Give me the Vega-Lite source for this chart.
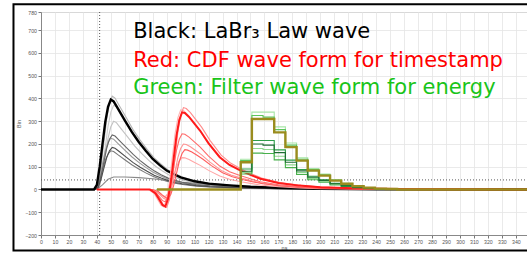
{
  "$schema": "https://vega.github.io/schema/vega-lite/v6.json",
  "width": 486,
  "height": 223,
  "autosize": {"type": "none"},
  "padding": {"left": 41, "top": 12, "right": 0, "bottom": 18},
  "background": "white",
  "config": {
    "view": {"stroke": "#a8a8a8", "strokeWidth": 1},
    "axis": {
      "labelFont": "Liberation Sans", "labelFontSize": 5.2, "labelColor": "#555555", "labelOverlap": false,
      "titleFont": "Liberation Sans", "titleFontSize": 5.5, "titleFontWeight": "normal", "titleColor": "#555555",
      "tickColor": "#777777", "tickSize": 3, "domainColor": "#888888", "labelPadding": 1.5,
      "gridColor": "#e4e4e4", "gridWidth": 0.8
    }
  },
  "resolve": {"scale": {"color": "independent"}},
  "encoding": {
    "x": {"field": "t", "type": "quantitative",
          "scale": {"domain": [0, 348], "nice": false, "zero": false},
          "axis": {"values": [0,10,20,30,40,50,60,70,80,90,100,110,120,130,140,150,160,170,180,190,200,210,220,230,240,250,260,270,280,290,300,310,320,330,340], "labelOverlap": false, "labelBound": false, "labelFlush": false, "labelSeparation": 0, "title": "ns", "grid": true, "titlePadding": 1}},
    "y": {"field": "v", "type": "quantitative",
          "scale": {"domain": [-200, 780], "nice": false, "zero": false},
          "axis": {"values": [-200,-100,0,100,200,300,400,500,600,700,780], "labelOverlap": false, "labelBound": false, "labelFlush": false, "labelSeparation": 0, "title": "Bin", "grid": true, "titlePadding": 3}}
  },
  "datasets": {
    "black": [
      {"s":"b2","t":0,"v":0},{"s":"b2","t":39,"v":0},{"s":"b2","t":41,"v":21},{"s":"b2","t":43,"v":103},{"s":"b2","t":45,"v":205},{"s":"b2","t":47,"v":308},{"s":"b2","t":49,"v":377},{"s":"b2","t":51,"v":410},{"s":"b2","t":53,"v":402},{"s":"b2","t":56,"v":369},{"s":"b2","t":61,"v":316},{"s":"b2","t":66,"v":262},{"s":"b2","t":71,"v":217},{"s":"b2","t":76,"v":176},{"s":"b2","t":81,"v":139},{"s":"b2","t":86,"v":111},{"s":"b2","t":91,"v":86},{"s":"b2","t":96,"v":70},{"s":"b2","t":101,"v":55},{"s":"b2","t":111,"v":37},{"s":"b2","t":121,"v":27},{"s":"b2","t":136,"v":18},{"s":"b2","t":151,"v":12},{"s":"b2","t":171,"v":7},{"s":"b2","t":201,"v":3},{"s":"b2","t":241,"v":1},{"s":"b2","t":348,"v":0},
      {"s":"b3","t":0,"v":0},{"s":"b3","t":40,"v":0},{"s":"b3","t":42,"v":19},{"s":"b3","t":44,"v":93},{"s":"b3","t":46,"v":185},{"s":"b3","t":48,"v":278},{"s":"b3","t":50,"v":340},{"s":"b3","t":52,"v":370},{"s":"b3","t":54,"v":363},{"s":"b3","t":57,"v":333},{"s":"b3","t":62,"v":285},{"s":"b3","t":67,"v":237},{"s":"b3","t":72,"v":196},{"s":"b3","t":77,"v":159},{"s":"b3","t":82,"v":126},{"s":"b3","t":87,"v":100},{"s":"b3","t":92,"v":78},{"s":"b3","t":97,"v":63},{"s":"b3","t":102,"v":50},{"s":"b3","t":112,"v":33},{"s":"b3","t":122,"v":24},{"s":"b3","t":137,"v":17},{"s":"b3","t":152,"v":11},{"s":"b3","t":172,"v":7},{"s":"b3","t":202,"v":3},{"s":"b3","t":242,"v":1},{"s":"b3","t":348,"v":0},
      {"s":"b4","t":0,"v":0},{"s":"b4","t":40,"v":0},{"s":"b4","t":42,"v":15},{"s":"b4","t":44,"v":75},{"s":"b4","t":46,"v":150},{"s":"b4","t":48,"v":225},{"s":"b4","t":50,"v":276},{"s":"b4","t":52,"v":300},{"s":"b4","t":54,"v":294},{"s":"b4","t":57,"v":270},{"s":"b4","t":62,"v":231},{"s":"b4","t":67,"v":192},{"s":"b4","t":72,"v":159},{"s":"b4","t":77,"v":129},{"s":"b4","t":82,"v":102},{"s":"b4","t":87,"v":81},{"s":"b4","t":92,"v":63},{"s":"b4","t":97,"v":51},{"s":"b4","t":102,"v":41},{"s":"b4","t":112,"v":27},{"s":"b4","t":122,"v":20},{"s":"b4","t":137,"v":14},{"s":"b4","t":152,"v":9},{"s":"b4","t":172,"v":5},{"s":"b4","t":202,"v":2},{"s":"b4","t":242,"v":1},{"s":"b4","t":348,"v":0},
      {"s":"b6","t":0,"v":0},{"s":"b6","t":38,"v":0},{"s":"b6","t":40,"v":11},{"s":"b6","t":42,"v":56},{"s":"b6","t":44,"v":113},{"s":"b6","t":46,"v":169},{"s":"b6","t":48,"v":207},{"s":"b6","t":50,"v":225},{"s":"b6","t":52,"v":221},{"s":"b6","t":55,"v":203},{"s":"b6","t":60,"v":173},{"s":"b6","t":65,"v":144},{"s":"b6","t":70,"v":119},{"s":"b6","t":75,"v":97},{"s":"b6","t":80,"v":77},{"s":"b6","t":85,"v":61},{"s":"b6","t":90,"v":47},{"s":"b6","t":95,"v":38},{"s":"b6","t":100,"v":30},{"s":"b6","t":110,"v":20},{"s":"b6","t":120,"v":15},{"s":"b6","t":135,"v":10},{"s":"b6","t":150,"v":7},{"s":"b6","t":170,"v":4},{"s":"b6","t":200,"v":2},{"s":"b6","t":240,"v":1},{"s":"b6","t":348,"v":0},
      {"s":"b8","t":0,"v":0},{"s":"b8","t":38,"v":0},{"s":"b8","t":40,"v":9},{"s":"b8","t":42,"v":43},{"s":"b8","t":44,"v":85},{"s":"b8","t":46,"v":128},{"s":"b8","t":48,"v":156},{"s":"b8","t":50,"v":170},{"s":"b8","t":52,"v":167},{"s":"b8","t":55,"v":153},{"s":"b8","t":60,"v":131},{"s":"b8","t":65,"v":109},{"s":"b8","t":70,"v":90},{"s":"b8","t":75,"v":73},{"s":"b8","t":80,"v":58},{"s":"b8","t":85,"v":46},{"s":"b8","t":90,"v":36},{"s":"b8","t":95,"v":29},{"s":"b8","t":100,"v":23},{"s":"b8","t":110,"v":15},{"s":"b8","t":120,"v":11},{"s":"b8","t":135,"v":8},{"s":"b8","t":150,"v":5},{"s":"b8","t":170,"v":3},{"s":"b8","t":200,"v":1},{"s":"b8","t":240,"v":1},{"s":"b8","t":348,"v":0},
      {"s":"b9","t":0,"v":0},{"s":"b9","t":40,"v":0},{"s":"b9","t":44,"v":20},{"s":"b9","t":48,"v":45},{"s":"b9","t":52,"v":55},{"s":"b9","t":60,"v":55},{"s":"b9","t":70,"v":52},{"s":"b9","t":80,"v":47},{"s":"b9","t":90,"v":40},{"s":"b9","t":100,"v":33},{"s":"b9","t":120,"v":22},{"s":"b9","t":150,"v":12},{"s":"b9","t":200,"v":4},{"s":"b9","t":348,"v":0},
      {"s":"b5","t":0,"v":0},{"s":"b5","t":39,"v":0},{"s":"b5","t":41,"v":12},{"s":"b5","t":43,"v":60},{"s":"b5","t":45,"v":120},{"s":"b5","t":47,"v":180},{"s":"b5","t":49,"v":221},{"s":"b5","t":51,"v":240},{"s":"b5","t":53,"v":235},{"s":"b5","t":56,"v":216},{"s":"b5","t":61,"v":185},{"s":"b5","t":66,"v":154},{"s":"b5","t":71,"v":127},{"s":"b5","t":76,"v":103},{"s":"b5","t":81,"v":82},{"s":"b5","t":86,"v":65},{"s":"b5","t":91,"v":50},{"s":"b5","t":96,"v":41},{"s":"b5","t":101,"v":32},{"s":"b5","t":111,"v":22},{"s":"b5","t":121,"v":16},{"s":"b5","t":136,"v":11},{"s":"b5","t":151,"v":7},{"s":"b5","t":171,"v":4},{"s":"b5","t":201,"v":2},{"s":"b5","t":241,"v":1},{"s":"b5","t":348,"v":0},
      {"s":"b7","t":0,"v":0},{"s":"b7","t":39,"v":0},{"s":"b7","t":41,"v":9},{"s":"b7","t":43,"v":46},{"s":"b7","t":45,"v":93},{"s":"b7","t":47,"v":139},{"s":"b7","t":49,"v":170},{"s":"b7","t":51,"v":185},{"s":"b7","t":53,"v":181},{"s":"b7","t":56,"v":167},{"s":"b7","t":61,"v":142},{"s":"b7","t":66,"v":118},{"s":"b7","t":71,"v":98},{"s":"b7","t":76,"v":80},{"s":"b7","t":81,"v":63},{"s":"b7","t":86,"v":50},{"s":"b7","t":91,"v":39},{"s":"b7","t":96,"v":31},{"s":"b7","t":101,"v":25},{"s":"b7","t":111,"v":17},{"s":"b7","t":121,"v":12},{"s":"b7","t":136,"v":8},{"s":"b7","t":151,"v":6},{"s":"b7","t":171,"v":3},{"s":"b7","t":201,"v":1},{"s":"b7","t":241,"v":1},{"s":"b7","t":348,"v":0}
    ],
    "blackMain": [
      {"s":"b1","t":0,"v":0},{"s":"b1","t":38,"v":0},{"s":"b1","t":40,"v":20},{"s":"b1","t":42,"v":99},{"s":"b1","t":44,"v":198},{"s":"b1","t":46,"v":296},{"s":"b1","t":48,"v":363},{"s":"b1","t":50,"v":395},{"s":"b1","t":52,"v":387},{"s":"b1","t":55,"v":356},{"s":"b1","t":60,"v":304},{"s":"b1","t":65,"v":253},{"s":"b1","t":70,"v":209},{"s":"b1","t":75,"v":170},{"s":"b1","t":80,"v":134},{"s":"b1","t":85,"v":107},{"s":"b1","t":90,"v":83},{"s":"b1","t":95,"v":67},{"s":"b1","t":100,"v":53},{"s":"b1","t":110,"v":36},{"s":"b1","t":120,"v":26},{"s":"b1","t":135,"v":18},{"s":"b1","t":150,"v":12},{"s":"b1","t":170,"v":7},{"s":"b1","t":200,"v":3},{"s":"b1","t":240,"v":1},{"s":"b1","t":348,"v":0}
    ],
    "red": [
      {"s":"r3","t":40,"v":0},{"s":"r3","t":77,"v":0},{"s":"r3","t":81,"v":-18},{"s":"r3","t":84,"v":-49},{"s":"r3","t":86,"v":-70},{"s":"r3","t":88,"v":-77},{"s":"r3","t":90,"v":-42},{"s":"r3","t":92,"v":35},{"s":"r3","t":94,"v":140},{"s":"r3","t":96,"v":245},{"s":"r3","t":98,"v":315},{"s":"r3","t":100,"v":350},{"s":"r3","t":102,"v":347},{"s":"r3","t":105,"v":329},{"s":"r3","t":109,"v":298},{"s":"r3","t":113,"v":266},{"s":"r3","t":119,"v":210},{"s":"r3","t":127,"v":147},{"s":"r3","t":134,"v":112},{"s":"r3","t":142,"v":86},{"s":"r3","t":149,"v":67},{"s":"r3","t":156,"v":49},{"s":"r3","t":169,"v":30},{"s":"r3","t":184,"v":18},{"s":"r3","t":199,"v":11},{"s":"r3","t":229,"v":4},{"s":"r3","t":269,"v":1},{"s":"r3","t":348,"v":0},
      {"s":"r2","t":40,"v":0},{"s":"r2","t":79,"v":0},{"s":"r2","t":83,"v":-18},{"s":"r2","t":86,"v":-50},{"s":"r2","t":88,"v":-72},{"s":"r2","t":90,"v":-79},{"s":"r2","t":92,"v":-43},{"s":"r2","t":94,"v":36},{"s":"r2","t":96,"v":144},{"s":"r2","t":98,"v":252},{"s":"r2","t":100,"v":324},{"s":"r2","t":102,"v":360},{"s":"r2","t":104,"v":356},{"s":"r2","t":107,"v":338},{"s":"r2","t":111,"v":306},{"s":"r2","t":115,"v":274},{"s":"r2","t":121,"v":216},{"s":"r2","t":129,"v":151},{"s":"r2","t":136,"v":115},{"s":"r2","t":144,"v":88},{"s":"r2","t":151,"v":68},{"s":"r2","t":158,"v":50},{"s":"r2","t":171,"v":31},{"s":"r2","t":186,"v":18},{"s":"r2","t":201,"v":11},{"s":"r2","t":231,"v":4},{"s":"r2","t":271,"v":1},{"s":"r2","t":348,"v":0},
      {"s":"r7","t":40,"v":0},{"s":"r7","t":78,"v":0},{"s":"r7","t":82,"v":-7},{"s":"r7","t":85,"v":-20},{"s":"r7","t":87,"v":-28},{"s":"r7","t":89,"v":-31},{"s":"r7","t":91,"v":-17},{"s":"r7","t":93,"v":14},{"s":"r7","t":95,"v":56},{"s":"r7","t":97,"v":98},{"s":"r7","t":99,"v":126},{"s":"r7","t":101,"v":140},{"s":"r7","t":103,"v":139},{"s":"r7","t":106,"v":132},{"s":"r7","t":110,"v":119},{"s":"r7","t":114,"v":106},{"s":"r7","t":120,"v":84},{"s":"r7","t":128,"v":59},{"s":"r7","t":135,"v":45},{"s":"r7","t":143,"v":34},{"s":"r7","t":150,"v":27},{"s":"r7","t":157,"v":20},{"s":"r7","t":170,"v":12},{"s":"r7","t":185,"v":7},{"s":"r7","t":200,"v":4},{"s":"r7","t":230,"v":2},{"s":"r7","t":270,"v":1},{"s":"r7","t":348,"v":0},
      {"s":"r5","t":40,"v":0},{"s":"r5","t":79,"v":0},{"s":"r5","t":83,"v":-10},{"s":"r5","t":86,"v":-28},{"s":"r5","t":88,"v":-40},{"s":"r5","t":90,"v":-44},{"s":"r5","t":92,"v":-24},{"s":"r5","t":94,"v":20},{"s":"r5","t":96,"v":80},{"s":"r5","t":98,"v":140},{"s":"r5","t":100,"v":180},{"s":"r5","t":102,"v":200},{"s":"r5","t":104,"v":198},{"s":"r5","t":107,"v":188},{"s":"r5","t":111,"v":170},{"s":"r5","t":115,"v":152},{"s":"r5","t":121,"v":120},{"s":"r5","t":129,"v":84},{"s":"r5","t":136,"v":64},{"s":"r5","t":144,"v":49},{"s":"r5","t":151,"v":38},{"s":"r5","t":158,"v":28},{"s":"r5","t":171,"v":17},{"s":"r5","t":186,"v":10},{"s":"r5","t":201,"v":6},{"s":"r5","t":231,"v":2},{"s":"r5","t":271,"v":1},{"s":"r5","t":348,"v":0},
      {"s":"r6","t":40,"v":0},{"s":"r6","t":80,"v":0},{"s":"r6","t":84,"v":-9},{"s":"r6","t":87,"v":-25},{"s":"r6","t":89,"v":-35},{"s":"r6","t":91,"v":-39},{"s":"r6","t":93,"v":-21},{"s":"r6","t":95,"v":18},{"s":"r6","t":97,"v":70},{"s":"r6","t":99,"v":123},{"s":"r6","t":101,"v":158},{"s":"r6","t":103,"v":175},{"s":"r6","t":105,"v":173},{"s":"r6","t":108,"v":165},{"s":"r6","t":112,"v":149},{"s":"r6","t":116,"v":133},{"s":"r6","t":122,"v":105},{"s":"r6","t":130,"v":74},{"s":"r6","t":137,"v":56},{"s":"r6","t":145,"v":43},{"s":"r6","t":152,"v":33},{"s":"r6","t":159,"v":25},{"s":"r6","t":172,"v":15},{"s":"r6","t":187,"v":9},{"s":"r6","t":202,"v":5},{"s":"r6","t":232,"v":2},{"s":"r6","t":272,"v":1},{"s":"r6","t":348,"v":0},
      {"s":"r4","t":40,"v":0},{"s":"r4","t":78,"v":0},{"s":"r4","t":82,"v":-12},{"s":"r4","t":85,"v":-34},{"s":"r4","t":87,"v":-49},{"s":"r4","t":89,"v":-54},{"s":"r4","t":91,"v":-29},{"s":"r4","t":93,"v":25},{"s":"r4","t":95,"v":98},{"s":"r4","t":97,"v":172},{"s":"r4","t":99,"v":221},{"s":"r4","t":101,"v":245},{"s":"r4","t":103,"v":243},{"s":"r4","t":106,"v":230},{"s":"r4","t":110,"v":208},{"s":"r4","t":114,"v":186},{"s":"r4","t":120,"v":147},{"s":"r4","t":128,"v":103},{"s":"r4","t":135,"v":78},{"s":"r4","t":143,"v":60},{"s":"r4","t":150,"v":47},{"s":"r4","t":157,"v":34},{"s":"r4","t":170,"v":21},{"s":"r4","t":185,"v":12},{"s":"r4","t":200,"v":7},{"s":"r4","t":230,"v":3},{"s":"r4","t":270,"v":1},{"s":"r4","t":348,"v":0}
    ],
    "redMain": [
      {"s":"r1","t":40,"v":0},{"s":"r1","t":78,"v":0},{"s":"r1","t":82,"v":-17},{"s":"r1","t":85,"v":-47},{"s":"r1","t":87,"v":-68},{"s":"r1","t":89,"v":-75},{"s":"r1","t":91,"v":-41},{"s":"r1","t":93,"v":34},{"s":"r1","t":95,"v":136},{"s":"r1","t":97,"v":237},{"s":"r1","t":99,"v":305},{"s":"r1","t":101,"v":339},{"s":"r1","t":103,"v":336},{"s":"r1","t":106,"v":319},{"s":"r1","t":110,"v":288},{"s":"r1","t":114,"v":258},{"s":"r1","t":120,"v":203},{"s":"r1","t":128,"v":142},{"s":"r1","t":135,"v":108},{"s":"r1","t":143,"v":83},{"s":"r1","t":150,"v":64},{"s":"r1","t":157,"v":47},{"s":"r1","t":170,"v":29},{"s":"r1","t":185,"v":17},{"s":"r1","t":200,"v":10},{"s":"r1","t":230,"v":4},{"s":"r1","t":270,"v":1},{"s":"r1","t":348,"v":0}
    ],
    "green": [
      {"s":"g2","t":83,"v":0},{"s":"g2","t":143,"v":133},{"s":"g2","t":151,"v":340},{"s":"g2","t":159,"v":340},{"s":"g2","t":167,"v":275},{"s":"g2","t":175,"v":204},{"s":"g2","t":183,"v":139},{"s":"g2","t":191,"v":92},{"s":"g2","t":199,"v":68},{"s":"g2","t":207,"v":43},{"s":"g2","t":215,"v":27},{"s":"g2","t":223,"v":16},{"s":"g2","t":231,"v":9},{"s":"g2","t":239,"v":4},{"s":"g2","t":247,"v":2},{"s":"g2","t":255,"v":0},{"s":"g2","t":348,"v":0},
      {"s":"g6","t":83,"v":0},{"s":"g6","t":143,"v":75},{"s":"g6","t":151,"v":180},{"s":"g6","t":159,"v":176},{"s":"g6","t":167,"v":146},{"s":"g6","t":175,"v":108},{"s":"g6","t":183,"v":74},{"s":"g6","t":191,"v":49},{"s":"g6","t":199,"v":36},{"s":"g6","t":207,"v":23},{"s":"g6","t":215,"v":14},{"s":"g6","t":223,"v":9},{"s":"g6","t":231,"v":5},{"s":"g6","t":239,"v":2},{"s":"g6","t":247,"v":1},{"s":"g6","t":255,"v":0},{"s":"g6","t":348,"v":0},
      {"s":"g3","t":83,"v":0},{"s":"g3","t":143,"v":127},{"s":"g3","t":151,"v":325},{"s":"g3","t":159,"v":318},{"s":"g3","t":167,"v":263},{"s":"g3","t":175,"v":195},{"s":"g3","t":183,"v":133},{"s":"g3","t":191,"v":88},{"s":"g3","t":199,"v":65},{"s":"g3","t":207,"v":41},{"s":"g3","t":215,"v":26},{"s":"g3","t":223,"v":16},{"s":"g3","t":231,"v":8},{"s":"g3","t":239,"v":4},{"s":"g3","t":247,"v":2},{"s":"g3","t":255,"v":0},{"s":"g3","t":348,"v":0},
      {"s":"g7","t":83,"v":0},{"s":"g7","t":143,"v":68},{"s":"g7","t":151,"v":160},{"s":"g7","t":159,"v":158},{"s":"g7","t":167,"v":130},{"s":"g7","t":175,"v":96},{"s":"g7","t":183,"v":66},{"s":"g7","t":191,"v":43},{"s":"g7","t":199,"v":32},{"s":"g7","t":207,"v":20},{"s":"g7","t":215,"v":13},{"s":"g7","t":223,"v":8},{"s":"g7","t":231,"v":4},{"s":"g7","t":239,"v":2},{"s":"g7","t":247,"v":1},{"s":"g7","t":255,"v":0},{"s":"g7","t":348,"v":0},
      {"s":"g4","t":83,"v":0},{"s":"g4","t":143,"v":90},{"s":"g4","t":151,"v":215},{"s":"g4","t":159,"v":215},{"s":"g4","t":167,"v":174},{"s":"g4","t":175,"v":129},{"s":"g4","t":183,"v":88},{"s":"g4","t":191,"v":58},{"s":"g4","t":199,"v":43},{"s":"g4","t":207,"v":27},{"s":"g4","t":215,"v":17},{"s":"g4","t":223,"v":10},{"s":"g4","t":231,"v":6},{"s":"g4","t":239,"v":3},{"s":"g4","t":247,"v":1},{"s":"g4","t":255,"v":0},{"s":"g4","t":348,"v":0},
      {"s":"g5","t":83,"v":0},{"s":"g5","t":143,"v":80},{"s":"g5","t":151,"v":200},{"s":"g5","t":159,"v":195},{"s":"g5","t":167,"v":162},{"s":"g5","t":175,"v":120},{"s":"g5","t":183,"v":82},{"s":"g5","t":191,"v":54},{"s":"g5","t":199,"v":40},{"s":"g5","t":207,"v":25},{"s":"g5","t":215,"v":16},{"s":"g5","t":223,"v":10},{"s":"g5","t":231,"v":5},{"s":"g5","t":239,"v":3},{"s":"g5","t":247,"v":1},{"s":"g5","t":255,"v":0},{"s":"g5","t":348,"v":0}
    ],
    "greenMain": [
      {"s":"g1","t":83,"v":0},{"s":"g1","t":143,"v":120},{"s":"g1","t":151,"v":310},{"s":"g1","t":159,"v":310},{"s":"g1","t":167,"v":251},{"s":"g1","t":175,"v":186},{"s":"g1","t":183,"v":127},{"s":"g1","t":191,"v":83},{"s":"g1","t":199,"v":61},{"s":"g1","t":207,"v":39},{"s":"g1","t":215,"v":25},{"s":"g1","t":223,"v":15},{"s":"g1","t":231,"v":8},{"s":"g1","t":239,"v":4},{"s":"g1","t":247,"v":2},{"s":"g1","t":255,"v":0},{"s":"g1","t":348,"v":0}
    ],
    "labels": [
      {"k":"Black","txt":"Black: LaBr₃ Law wave","t":66,"v":664},
      {"k":"Red","txt":"Red: CDF wave form for timestamp","t":66,"v":540},
      {"k":"Green","txt":"Green: Filter wave form for energy","t":66,"v":418}
    ],
    "vline": [{"t":42,"v":-200,"v2":780}],
    "hline": [{"t":0,"t2":348,"v":42}],
    "frame": [{"t":-19.7,"t2":420,"v":814,"v2":-268}]
  },
  "layer": [
    {
      "data": {"name": "vline"},
      "mark": {"type": "rule", "color": "#555555", "strokeWidth": 1, "strokeDash": [1, 2]},
      "encoding": {"y2": {"field": "v2"}}
    },
    {
      "data": {"name": "hline"},
      "mark": {"type": "rule", "color": "#555555", "strokeWidth": 1, "strokeDash": [1, 2]},
      "encoding": {"x2": {"field": "t2"}}
    },
    {
      "data": {"name": "black"},
      "mark": {"type": "line", "strokeWidth": 1.1, "clip": true},
      "encoding": {
        "color": {"field": "s", "type": "nominal", "legend": null,
                  "scale": {"domain": ["b2","b3","b4","b6","b8","b9","b5","b7"],
                            "range": ["#b5b5b5","#cdcdcd","#c2c2c2","#9a9a9a","#7a7a7a","#8a8a8a","#666666","#4d4d4d"]}}
      }
    },
    {
      "data": {"name": "blackMain"},
      "mark": {"type": "line", "strokeWidth": 2.4, "color": "#000000", "clip": true},
      "encoding": {}
    },
    {
      "data": {"name": "red"},
      "mark": {"type": "line", "strokeWidth": 1.1, "clip": true},
      "encoding": {
        "color": {"field": "s", "type": "nominal", "legend": null,
                  "scale": {"domain": ["r3","r2","r7","r5","r6","r4"],
                            "range": ["#ffb5b5","#ff8c8c","#ffa6a6","#ff9494","#ff5c5c","#ff6b6b"]}}
      }
    },
    {
      "data": {"name": "redMain"},
      "mark": {"type": "line", "strokeWidth": 2, "color": "#ff1a1a", "clip": true},
      "encoding": {}
    },
    {
      "data": {"name": "green"},
      "mark": {"type": "line", "strokeWidth": 1.1, "interpolate": "step-after", "clip": true},
      "encoding": {
        "color": {"field": "s", "type": "nominal", "legend": null,
                  "scale": {"domain": ["g2","g6","g3","g7","g4","g5"],
                            "range": ["#a8e6a8","#8fd88f","#5cc45c","#48b04c","#2e9e4a","#1f6e33"]}}
      }
    },
    {
      "data": {"name": "greenMain"},
      "mark": {"type": "line", "strokeWidth": 2.4, "color": "#9a8c1e", "interpolate": "step-after", "clip": true},
      "encoding": {}
    },
    {
      "data": {"name": "labels"},
      "mark": {"type": "text", "font": "DejaVu Sans", "fontSize": 21, "align": "left", "baseline": "alphabetic"},
      "encoding": {
        "text": {"field": "txt"},
        "color": {"field": "k", "type": "nominal", "legend": null,
                  "scale": {"domain": ["Black","Red","Green"], "range": ["#000000","#ff0000","#19c419"]}}
      }
    },
    {
      "data": {"name": "frame"},
      "mark": {"type": "rect", "filled": false, "stroke": "#000000", "strokeWidth": 2, "clip": false},
      "encoding": {"x2": {"field": "t2"}, "y2": {"field": "v2"}}
    }
  ]
}
